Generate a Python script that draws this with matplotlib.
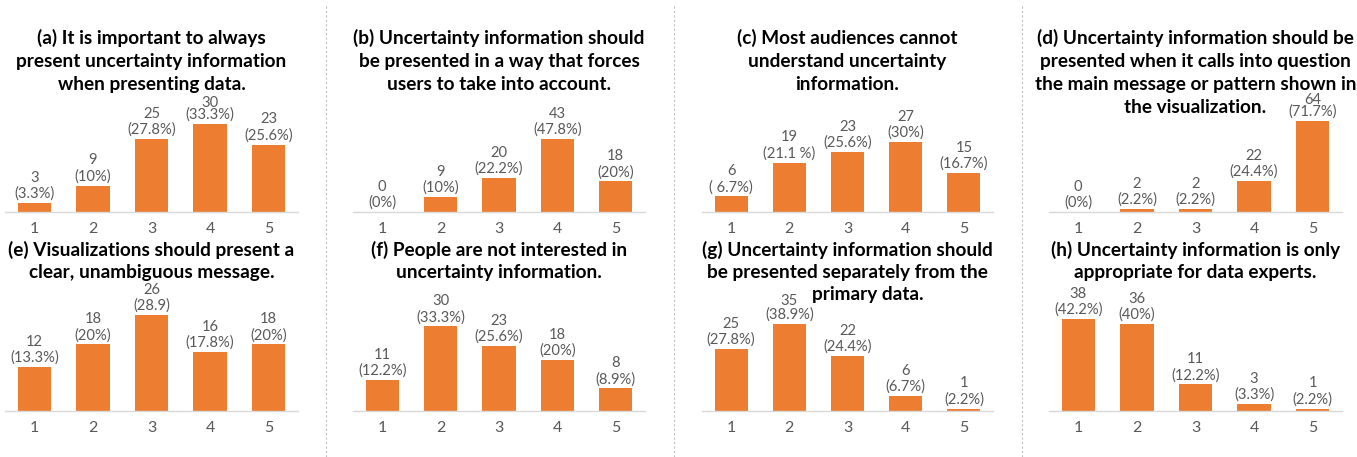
import matplotlib
matplotlib.use("Agg")
import matplotlib.pyplot as plt
from matplotlib.lines import Line2D

plt.rcParams['font.family'] = ['Lato', 'DejaVu Sans']

ratings = ["1", "2", "3", "4", "5"]

titles = [
    ["(a) It is important to always", "present uncertainty information", "when presenting data."],
    ["(b) Uncertainty information should", "be presented in a way that forces", "users to take into account."],
    ["(c) Most audiences cannot", "understand uncertainty", "information."],
    ["(d) Uncertainty information should be", "presented when it calls into question",
     "the main message or pattern shown in", "the visualization."],
    ["(e) Visualizations should present a", "clear, unambiguous message."],
    ["(f) People are not interested in", "uncertainty information."],
    ["(g) Uncertainty information should", "be presented separately from the", "primary data."],
    ["(h) Uncertainty information is only", "appropriate for data experts."],
]

counts_a = [3, 9, 25, 30, 23]
counts_b = [0, 9, 20, 43, 18]
counts_c = [6, 19, 23, 27, 15]
counts_d = [0, 2, 2, 22, 64]
counts_e = [12, 18, 26, 16, 18]
counts_f = [11, 30, 23, 18, 8]
counts_g = [25, 35, 22, 6, 1]
counts_h = [38, 36, 11, 3, 1]

pct_a = ["3.3%", "10%", "27.8%", "33.3%", "25.6%"]
pct_b = ["0%", "10%", "22.2%", "47.8%", "20%"]
pct_c = [" 6.7%", "21.1 %", "25.6%", "30%", "16.7%"]
pct_d = ["0%", "2.2%", "2.2%", "24.4%", "71.7%"]
pct_e = ["13.3%", "20%", "28.9", "17.8%", "20%"]
pct_f = ["12.2%", "33.3%", "25.6%", "20%", "8.9%"]
pct_g = ["27.8%", "38.9%", "24.4%", "6.7%", "2.2%"]
pct_h = ["42.2%", "40%", "12.2%", "3.3%", "2.2%"]

all_counts = [counts_a, counts_b, counts_c, counts_d, counts_e, counts_f, counts_g, counts_h]
all_pcts = [pct_a, pct_b, pct_c, pct_d, pct_e, pct_f, pct_g, pct_h]

# each Excel panel had its own y scale
y_tops = [38.2, 66, 43, 79, 30.3, 39.7, 45, 46.3]

# labels that sit tight under a title are squeezed in the original
squeezed = {(0, 3): 0.82, (3, 4): 0.85, (6, 1): 0.95}

W, H = 1357, 457
bar_color = "#ED7D31"
gray = "#595959"

fig = plt.figure(figsize=(W / 100, H / 100), dpi=100)

col_x = [(5, 298), (353, 645), (702, 993), (1049, 1342)]
row_base = [212, 411]
row_title_base = [44, 256]
line_step = [23, 22]
ax_h = 112

for i in range(8):
    r, c = divmod(i, 4)
    x0, x1 = col_x[c]
    base = row_base[r]
    ax = fig.add_axes([x0 / W, (H - base) / H, (x1 - x0) / W, ax_h / H])
    xs = range(len(ratings))
    bars = ax.bar(xs, all_counts[i], width=0.57, color=bar_color)
    for k, (b, n, p) in enumerate(zip(bars, all_counts[i], all_pcts[i])):
        ls = squeezed.get((i, k), 1.15)
        ax.annotate("%d\n(%s)" % (n, p), (b.get_x() + b.get_width() / 2, b.get_height()),
                    xytext=(0, 1.5), textcoords="offset points", ha="center", va="bottom",
                    fontsize=10.6, color=gray, linespacing=ls)
    ax.set_xlim(-0.5, 4.5)
    ax.set_ylim(0, y_tops[i])
    ax.set_xticks(list(xs))
    ax.set_xticklabels(ratings, fontsize=11.5, color=gray)
    ax.set_yticks([])
    ax.tick_params(axis="x", length=0, pad=7)
    for s in ["top", "left", "right"]:
        ax.spines[s].set_visible(False)
    ax.spines["bottom"].set_color("#d9d9d9")
    ax.spines["bottom"].set_linewidth(1)
    ax.patch.set_alpha(0)

    cx = (x0 + x1) / 2
    for j, line in enumerate(titles[i]):
        lx = cx + 20 if (i == 6 and j == 2) else cx  # last line of (g) sits off-centre
        ly = row_title_base[r] + j * line_step[r]
        fig.text(lx / W, 1 - ly / H, line, ha="center", va="baseline",
                 fontsize=13.7, fontweight="bold", color="black")

for xd in [326, 674, 1022]:
    fig.add_artist(Line2D([xd / W, xd / W], [0, 1 - 5 / H], color="#bfbfbf",
                          linewidth=0.8, linestyle=(0, (2, 2))))

fig.savefig("out.png", dpi=100)
